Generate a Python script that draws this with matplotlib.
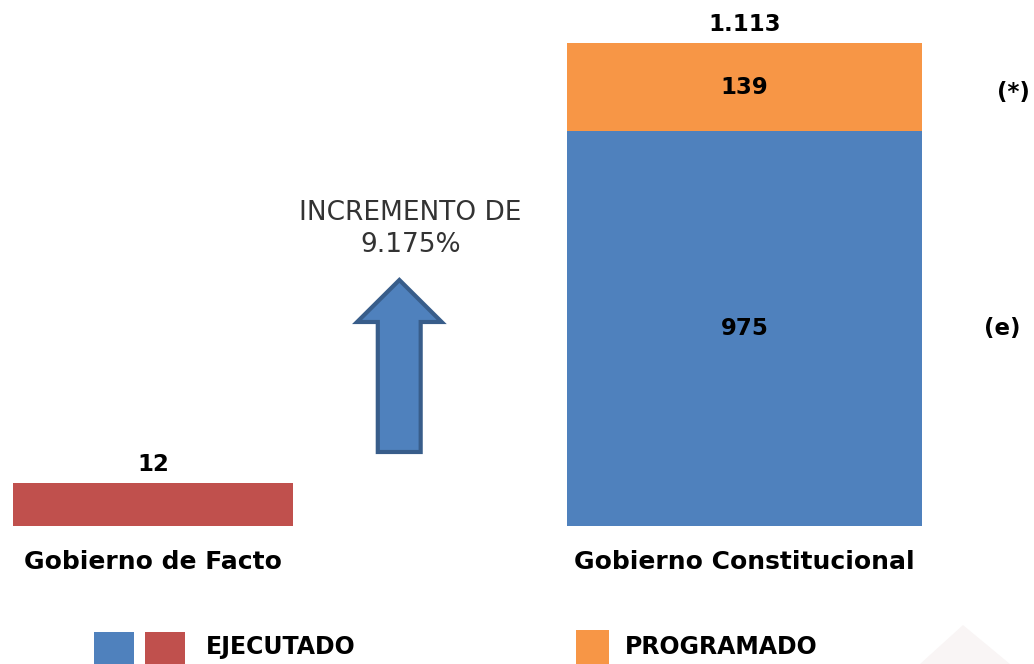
import matplotlib
matplotlib.use('Agg')
import matplotlib.pyplot as plt
from matplotlib.patches import Rectangle, Polygon

plt.rcParams['font.family'] = ['DejaVu Sans']

# Data (bar heights; labels as printed)
categories = ["Gobierno de Facto", "Gobierno Constitucional"]
ejecutado = [43, 395]        # bar heights (chart units)
programado = [0, 88]
ejecutado_lbl = ["12", "975"]
programado_lbl = ["", "139"]
total_lbl = ["12", "1.113"]
side_notes = ["(e)", "(*)"]
increment_txt = "INCREMENTO DE\n9.175%"

BLUE, RED, ORANGE = "#4f81bd", "#c0504d", "#f79646"
W, H = 1034, 664

fig = plt.figure(figsize=(W / 100, H / 100), dpi=100)
ax = fig.add_axes([0, 1 - 526 / H, 1, 526 / H])
ax.set_xlim(-0.2587, 1.4894)
ax.set_ylim(0, 526)
ax.axis("off")

x = [0, 1]
widths = [0.473, 0.600]
colors_ej = [RED, BLUE]
ax.bar(x, ejecutado, width=widths, color=colors_ej, linewidth=0)
ax.bar(x, programado, width=widths, bottom=ejecutado, color=ORANGE, linewidth=0)

# labels
NUM = 16.5
ax.text(0, ejecutado[0] + 7, total_lbl[0], ha="center", va="bottom", fontsize=NUM, fontweight="bold")
ax.text(1, ejecutado[1] / 2, ejecutado_lbl[1], ha="center", va="center", fontsize=NUM, fontweight="bold")
ax.text(1, ejecutado[1] + programado[1] / 2, programado_lbl[1], ha="center", va="center", fontsize=NUM, fontweight="bold")
ax.text(1, ejecutado[1] + programado[1] + 7, total_lbl[1], ha="center", va="bottom", fontsize=NUM, fontweight="bold")
ax.text(1.435, ejecutado[1] / 2, side_notes[0], ha="center", va="center", fontsize=NUM, fontweight="bold")
ax.text(1.455, ejecutado[1] + programado[1] / 2 - 5, side_notes[1], ha="center", va="center", fontsize=NUM, fontweight="bold")

# category labels
for xi, cat in zip(x, categories):
    ax.text(xi, -36, cat, ha="center", va="center", fontsize=18, fontweight="bold", clip_on=False)

# increment text + arrow
ax.text(0.435, 297, increment_txt, ha="center", va="center", fontsize=19, color="#333333",
        linespacing=1.35)
arrow = [(0.38, 74), (0.38, 204), (0.345, 204), (0.4165, 246), (0.488, 204),
         (0.4525, 204), (0.4525, 74)]
ax.add_patch(Polygon(arrow, closed=True, facecolor=BLUE, edgecolor="#385d8a", linewidth=3, joinstyle="miter"))

# legend
def fig_rect(x0, y0, w, h, c):
    fig.add_artist(Rectangle((x0 / W, 1 - (y0 + h) / H), w / W, h / H, transform=fig.transFigure,
                             facecolor=c, linewidth=0))

fig.add_artist(Polygon([(920 / W, 0), (963 / W, 1 - 625 / H), (1010 / W, 0)], closed=True,
                       transform=fig.transFigure, facecolor="#f9f5f5", linewidth=0))
fig_rect(94, 632, 40, 35, BLUE)
fig_rect(145, 632, 40, 35, RED)
fig_rect(576, 630, 33, 37, ORANGE)
fig.text(206 / W, 1 - 647 / H, "EJECUTADO", ha="left", va="center", fontsize=17, fontweight="bold")
fig.text(625 / W, 1 - 647 / H, "PROGRAMADO", ha="left", va="center", fontsize=17, fontweight="bold")

fig.savefig("out.png", dpi=100)
